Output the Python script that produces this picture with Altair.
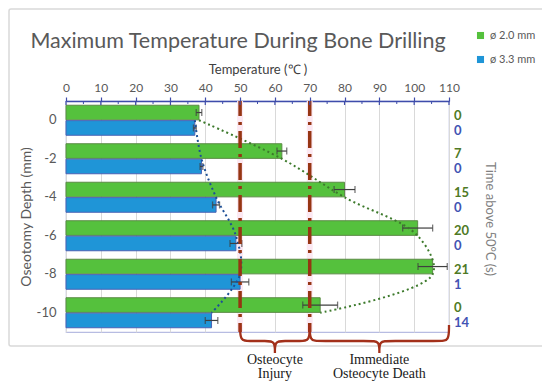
import altair as alt
import pandas as pd

# ---------------- data ----------------
depths = ["0", "-2", "-4", "-6", "-8", "-10"]
series = ["ø 2.0 mm", "ø 3.3 mm"]
temp_2_0 = [38.2, 62.0, 80.0, 101.0, 105.3, 73.0]
err_2_0 = [0.8, 1.4, 3.0, 4.3, 4.2, 5.0]
temp_3_3 = [37.0, 38.9, 43.1, 48.8, 50.0, 41.8]
err_3_3 = [0.4, 0.4, 1.0, 1.7, 2.5, 1.8]
time_2_0 = [0, 7, 15, 20, 21, 0]
time_3_3 = [0, 0, 0, 0, 1, 14]
thresholds = [50, 70]
zone_start = [50, 70]
zone_end = [70, 110]
zone_mid = [60, 90]
zone_labels = ["Osteocyte\nInjury", "Immediate\nOsteocyte Death"]
x_ticks = list(range(0, 111, 10))
x_minor = list(range(5, 110, 10))

# ---------------- styling ----------------
W, H = 383, 231
FONT = "Lato"
GREEN, BLUE = "#55c13d", "#1f95d7"
GREEN_EDGE, BLUE_EDGE = "#5b8b45", "#4a62b4"
GREEN_TXT, BLUE_TXT = "#4f7a25", "#4253b3"
BROWN = "#963513"
AXIS_BLUE = "#3e4cab"
GRAY = "#595959"

rows = []
for i, d in enumerate(depths):
    rows.append(dict(depth=d, series=series[0], temp=temp_2_0[i], err=err_2_0[i],
                     time=time_2_0[i], idx=i))
    rows.append(dict(depth=d, series=series[1], temp=temp_3_3[i], err=err_3_3[i],
                     time=time_3_3[i], idx=i))
df = pd.DataFrame(rows)
df["lo"] = df["temp"] - df["err"]
df["hi"] = df["temp"] + df["err"]

xscale = alt.Scale(domain=[0, 110], nice=False, zero=False)
yscale = alt.Scale(domain=depths, paddingInner=0.22, paddingOuter=0.11)
yoff = alt.YOffset("series:N", scale=alt.Scale(domain=series, paddingInner=0.05))
Y = alt.Y("depth:N", scale=yscale, axis=None)

xaxis = alt.Axis(orient="top", title="Temperature (℃ )", values=x_ticks,
                 tickSize=4, tickColor=AXIS_BLUE, tickWidth=1.2,
                 domainColor=AXIS_BLUE, domainWidth=1.3,
                 labelColor=GRAY, labelFontSize=12, labelFont=FONT, labelPadding=3,
                 labelFlush=False, labelOverlap=False,
                 titleColor="#404040", titleFontSize=13, titleFont=FONT,
                 titleFontWeight="normal", titlePadding=5,
                 grid=True, gridColor="#d9d9d9", gridWidth=1)
yaxis = alt.Axis(title="Oseotomy Depth (mm)", ticks=False, domain=False,
                 labelColor=GRAY, labelFontSize=13, labelFont=FONT, labelPadding=10,
                 titleColor=GRAY, titleFontSize=14, titleFont=FONT,
                 titleFontWeight="normal", titlePadding=3)


def X(field, **kw):
    # every layer carries the same explicit axis so the shared axis merges cleanly
    return alt.X(field, scale=xscale, axis=xaxis, **kw)


base = alt.Chart(df)

tick_df = pd.DataFrame({"v": x_ticks})
minor_df = pd.DataFrame({"v": x_minor})
thr_df = pd.DataFrame({"t": thresholds})

halo = alt.Chart(thr_df).mark_rule(color="#fce8f2", strokeWidth=6).encode(x=X("t:Q"))

bars = base.mark_bar(strokeWidth=1).encode(
    x=X("temp:Q"),
    y=alt.Y("depth:N", scale=yscale, axis=yaxis),
    yOffset=yoff,
    color=alt.Color("series:N", scale=alt.Scale(domain=series, range=[GREEN, BLUE]),
                    legend=alt.Legend(orient="none", legendX=409, legendY=-71,
                                      title=None, symbolType="square", symbolSize=50,
                                      symbolStrokeWidth=0, labelFont=FONT,
                                      labelFontSize=11, labelColor=GRAY,
                                      rowPadding=12)),
    stroke=alt.Stroke("series:N", scale=alt.Scale(domain=series,
                                                  range=[GREEN_EDGE, BLUE_EDGE]),
                      legend=None),
)

err_rule = base.mark_rule(color="#3f3f3f", strokeWidth=1.2).encode(
    x=X("lo:Q"), x2="hi:Q", y=Y, yOffset=yoff)
err_caps = base.transform_fold(["lo", "hi"], as_=["end", "v"]).mark_tick(
    color="#3f3f3f", size=7, thickness=1.3).encode(x=X("v:Q"), y=Y, yOffset=yoff)

curve_g = base.transform_filter(alt.datum.series == series[0]).mark_line(
    interpolate="catmull-rom", strokeDash=[2, 3], strokeWidth=2, color="#3d7a2c"
).encode(x=X("temp:Q"), y=Y, order="idx:Q")
curve_b = base.transform_filter(alt.datum.series == series[1]).mark_line(
    interpolate="catmull-rom", strokeDash=[2, 3], strokeWidth=2, color="#1d4f96"
).encode(x=X("temp:Q"), y=Y, order="idx:Q")

thr = alt.Chart(thr_df).mark_rule(color=BROWN, strokeWidth=3.5,
                                  strokeDash=[17, 6, 3, 6], strokeDashOffset=2).encode(
    x=X("t:Q"))

lab_g = base.transform_filter(alt.datum.series == series[0]).mark_text(
    align="left", baseline="middle", dy=3, font=FONT, fontSize=13,
    fontWeight="bold", color=GREEN_TXT).encode(
    x=alt.value(388), y=Y, yOffset=yoff, text="time:Q")
lab_b = base.transform_filter(alt.datum.series == series[1]).mark_text(
    align="left", baseline="middle", dy=3, font=FONT, fontSize=13,
    fontWeight="bold", color=BLUE_TXT).encode(
    x=alt.value(388), y=Y, yOffset=yoff, text="time:Q")

in_major = alt.Chart(tick_df).mark_rule(color=AXIS_BLUE, strokeWidth=1.2).encode(
    x=X("v:Q"), y=alt.value(0), y2=alt.value(4))
in_minor = alt.Chart(minor_df).mark_rule(color=AXIS_BLUE, strokeWidth=1).encode(
    x=X("v:Q"), y=alt.value(0), y2=alt.value(3))

one = pd.DataFrame({"a": [0]})
title = alt.Chart(one).mark_text(
    text="Maximum Temperature During Bone Drilling", font=FONT, fontSize=21.5,
    color=GRAY, align="center", baseline="alphabetic").encode(
    x=alt.value(172), y=alt.value(-53))
right_title = alt.Chart(one).mark_text(
    text="Time above 50°C (s)", font=FONT, fontSize=13, color="#808080",
    angle=90, align="center", baseline="middle").encode(
    x=alt.value(424), y=alt.value(118))
frame = alt.Chart(one).mark_rect(fill="transparent", fillOpacity=0, stroke="#d9d9d9",
                                 strokeWidth=1.5, cornerRadius=2).encode(
    x=alt.value(-57), x2=alt.value(478), y=alt.value(-92), y2=alt.value(245))

# ---------------- braces under the plot ----------------
brace_rows = []
d = 2.5
for b, (x0, x1, xm) in enumerate(zip(zone_start, zone_end, zone_mid)):
    pts = [(x0, 224), (x0, 224), (x0, 240), (x0 + d, 240), (xm - d, 240), (xm, 240),
           (xm, 252), (xm, 252), (xm, 252), (xm, 240), (xm + d, 240), (x1 - d, 240),
           (x1, 240), (x1, 224), (x1, 224)]
    for k, (px, py) in enumerate(pts):
        brace_rows.append(dict(b=b, k=k, bx=px, by=py))
brace_df = pd.DataFrame(brace_rows)
bscale = alt.Scale(domain=[0, H], range=[0, H], nice=False, zero=False)
braces = alt.Chart(brace_df).mark_line(interpolate="basis", color="#a3301a",
                                       strokeWidth=2.3, clip=False).encode(
    x=X("bx:Q"),
    y=alt.Y("by:Q", scale=bscale, axis=None),
    detail="b:N", order="k:Q")

zone_df = pd.DataFrame({"mid": zone_mid, "label": zone_labels})
zone_text = alt.Chart(zone_df).mark_text(
    font="Liberation Serif", fontSize=14, color="#1a1a1a", align="center",
    baseline="alphabetic", lineBreak="\n", lineHeight=14).encode(
    x=X("mid:Q"), y=alt.value(263), text="label:N")

chart = alt.layer(halo, bars, frame, err_rule, err_caps, curve_g,
                  curve_b, thr, in_major, in_minor, lab_g, lab_b, title, right_title,
                  braces, zone_text).resolve_scale(y="independent").properties(
    width=W, height=H, background="white",
    padding={"left": 58, "top": 93, "right": 93, "bottom": 50},
    autosize=alt.AutoSizeParams(type="none"),
).configure_view(stroke="#b7bce2", strokeWidth=1.2)

chart.save("out.html", embed_options={"renderer": "svg", "actions": False})
